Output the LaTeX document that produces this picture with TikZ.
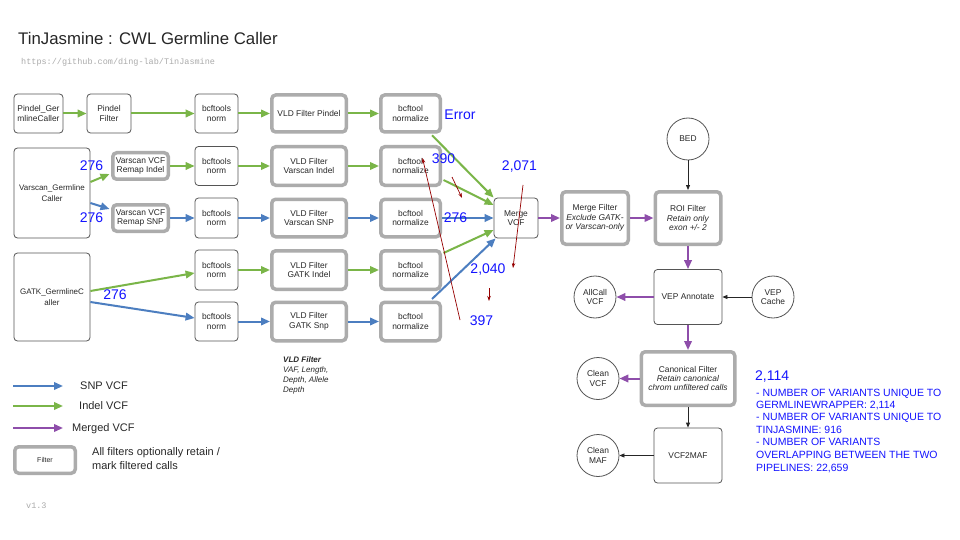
\documentclass[tikz,border=0pt]{standalone}
\usepackage{fontspec}
\setmainfont{Liberation Sans}
\setmonofont{Liberation Mono}
\usetikzlibrary{arrows.meta,calc}
\definecolor{snp}{RGB}{76,126,192}
\definecolor{indel}{RGB}{122,181,72}
\definecolor{merged}{RGB}{142,78,170}
\definecolor{anno}{RGB}{20,20,255}
\definecolor{redann}{RGB}{150,0,0}
\definecolor{boxline}{RGB}{85,85,85}
\definecolor{thickline}{RGB}{172,172,172}
\definecolor{txt}{RGB}{40,40,40}
\definecolor{faint}{RGB}{170,170,170}
\begin{document}
\begin{tikzpicture}[x=1pt,y=-1pt,
  base/.style={font=\fontsize{8.4}{9.4}\selectfont, text=txt, align=center, inner sep=0pt},
  proc/.style={base, draw=boxline, line width=0.8pt, rounded corners=3.5pt, fill=white},
  filt/.style={base, draw=thickline, line width=3.5pt, rounded corners=4pt, fill=white},
  src/.style={base, draw=boxline, line width=0.8pt, circle, minimum size=42pt, fill=white},
  sz/.style 2 args={minimum width=#1pt, minimum height=#2pt},
  indarr/.style={draw=indel, line width=2pt, -{Triangle[length=9pt,width=7.5pt]}},
  snparr/.style={draw=snp, line width=2pt, -{Triangle[length=9pt,width=7.5pt]}},
  mrgarr/.style={draw=merged, line width=2pt, -{Triangle[length=9pt,width=7.5pt]}},
  blkarr/.style={draw=black!85, line width=0.8pt, -{Triangle[length=5pt,width=4pt]}},
  redarr/.style={draw=redann, line width=0.7pt, -{Stealth[length=5pt,width=3.5pt]}},
  num/.style={text=anno, font=\fontsize{14}{14}\selectfont, inner sep=0pt},
  note/.style={text=anno, font=\fontsize{10.5}{12}\selectfont, inner sep=0pt, anchor=base west},
  legtxt/.style={text=txt, font=\fontsize{11}{13.5}\selectfont, inner sep=0pt, anchor=west, align=left}
]
\useasboundingbox (0,0) rectangle (960,540);
\fill[white] (0,0) rectangle (960,540);

% title
\node[inner sep=0pt, anchor=base west, text=black!85, font=\fontsize{16.8}{18}\selectfont] (title) at (18,45) {TinJasmine : CWL Germline Caller};
\node[inner sep=0pt, anchor=west, text=faint, font=\ttfamily\fontsize{8.5}{9}\selectfont] (url) at (21,62) {https://github.com/ding-lab/TinJasmine};

% row 1
\node[proc, sz={49}{39}] (pgc) at (38.5,113.5) {Pindel\_Ger\\mlineCaller};
\node[proc, sz={44}{39}] (pf) at (109,113.5) {Pindel\\Filter};
\node[proc, sz={43}{39}] (n1) at (216.5,113.5) {bcftools\\norm};
\node[filt, sz={74.5}{37}] (v1) at (309,113.5) {VLD Filter Pindel};
\node[filt, sz={59.5}{37}] (z1) at (410.5,113.5) {bcftool\\normalize};

% varscan
\node[proc, sz={76}{90}, font=\fontsize{8}{10.3}\selectfont] (vgc) at (52,193) {Varscan\_Germline\\Caller};
\node[filt, sz={55.5}{26.5}] (ri) at (140.5,166) {Varscan VCF\\Remap Indel};
\node[filt, sz={55.5}{26.5}] (rs) at (140.5,218) {Varscan VCF\\Remap SNP};
\node[proc, sz={43}{39}] (n2) at (216.5,166) {bcftools\\norm};
\node[proc, sz={43}{40}] (n3) at (216.5,218) {bcftools\\norm};
\node[filt, sz={74.5}{38.5}] (v2) at (309,166) {VLD Filter\\Varscan Indel};
\node[filt, sz={59.5}{38.5}] (z2) at (410.5,166) {bcftool\\normalize};
\node[filt, sz={74.5}{37.5}] (v3) at (309,218) {VLD Filter\\Varscan SNP};
\node[filt, sz={59.5}{37.5}] (z3) at (410.5,218) {bcftool\\normalize};

% gatk
\node[proc, sz={76}{88}, font=\fontsize{8}{10.3}\selectfont] (gatk) at (52,297) {GATK\_GermlineC\\aller};
\node[proc, sz={43}{40}] (n4) at (216.5,270) {bcftools\\norm};
\node[filt, sz={74.5}{38.5}] (v4) at (309,270) {VLD Filter\\GATK Indel};
\node[filt, sz={59.5}{38.5}] (z4) at (410.5,270) {bcftool\\normalize};
\node[proc, sz={43}{39}] (n5) at (216.5,321.5) {bcftools\\norm};
\node[filt, sz={74.5}{38.5}] (v5) at (309,321.5) {VLD Filter\\GATK Snp};
\node[filt, sz={59.5}{38.5}] (z5) at (410.5,321.5) {bcftool\\normalize};

% merge and downstream
\node[proc, sz={44}{40}] (merge) at (516,218) {Merge\\VCF};
\node[filt, sz={66.5}{52.5}] (mf) at (595,218) {Merge Filter\\\textit{Exclude GATK-}\\\textit{or Varscan-only}};
\node[filt, sz={65.5}{52.5}] (roi) at (688,218) {ROI Filter\\\textit{Retain only}\\\textit{exon +/- 2}};
\node[src] (bed) at (688,139) {BED};
\node[proc, sz={68}{55}] (vep) at (688,297) {VEP Annotate};
\node[src] (allcall) at (595,297) {AllCall\\VCF};
\node[src] (vepcache) at (773,297) {VEP\\Cache};
\node[filt, sz={93.5}{53.5}] (canon) at (688,378.5) {Canonical Filter\\\textit{Retain canonical}\\\textit{chrom unfiltered calls}};
\node[src] (cleanvcf) at (598,378.5) {Clean\\VCF};
\node[proc, sz={68}{55}] (vcf2maf) at (688,455.5) {VCF2MAF};
\node[src] (cleanmaf) at (598,455.5) {Clean\\MAF};

% arrows row 1
\draw[indarr] (pgc) -- (pf);
\draw[indarr] (pf) -- (n1);
\draw[indarr] (n1) -- (v1);
\draw[indarr] (v1) -- (z1);
\draw[indarr] ($(z1.south)+(21.5,1.5)$) -- (merge.north west);
% varscan arrows
\draw[indarr] ($(vgc.east)+(0,-11)$) -- ($(ri.west)+(-1.5,8)$);
\draw[snparr] ($(vgc.east)+(0,10)$) -- ($(rs.west)+(-1.5,-9)$);
\draw[indarr] (ri) -- (n2);
\draw[indarr] (n2) -- (v2);
\draw[indarr] (v2) -- (z2);
\draw[indarr] ($(z2.east)+(1.5,14)$) -- ($(merge.west)+(0,-13)$);
\draw[snparr] (rs) -- (n3);
\draw[snparr] (n3) -- (v3);
\draw[snparr] (v3) -- (z3);
\draw[snparr] (z3) -- (merge);
% gatk arrows
\draw[indarr] ($(gatk.east)+(0,-6)$) -- ($(n4.west)+(0,3)$);
\draw[snparr] ($(gatk.east)+(0,5)$) -- ($(n5.west)+(0,-3.5)$);
\draw[indarr] (n4) -- (v4);
\draw[indarr] (v4) -- (z4);
\draw[indarr] ($(z4.east)+(1.5,-17)$) -- ($(merge.west)+(0,12)$);
\draw[snparr] (n5) -- (v5);
\draw[snparr] (v5) -- (z5);
\draw[snparr] ($(z5.north)+(21.5,-1.5)$) -- ($(merge.south west)+(2,0)$);
% downstream arrows
\draw[mrgarr] (merge) -- (mf);
\draw[mrgarr] (mf) -- (roi);
\draw[blkarr] (bed) -- (roi);
\draw[mrgarr] (roi) -- (vep);
\draw[mrgarr] (vep) -- (allcall);
\draw[blkarr] (vepcache) -- (vep);
\draw[mrgarr] (vep) -- (canon);
\draw[mrgarr] (canon) -- (cleanvcf);
\draw[blkarr] (canon) -- (vcf2maf);
\draw[blkarr] (vcf2maf) -- (cleanmaf);

% VLD note
\node[inner sep=0pt, anchor=west, align=left, text=txt, font=\fontsize{8}{10}\selectfont] (vldnote) at (283,375) {\textbf{\textit{VLD Filter}}\\\textit{VAF, Length,}\\\textit{Depth, Allele}\\\textit{Depth}};

% legend
\coordinate (l1a) at (13,386); \coordinate (l1b) at (63,386);
\coordinate (l2a) at (13,406); \coordinate (l2b) at (63,406);
\coordinate (l3a) at (13,428); \coordinate (l3b) at (63,428);
\draw[snparr] (l1a) -- (l1b);
\draw[indarr] (l2a) -- (l2b);
\draw[mrgarr] (l3a) -- (l3b);
\node[legtxt] (lsnp) at (80,385.5) {SNP VCF};
\node[legtxt] (lind) at (79,406) {Indel VCF};
\node[legtxt] (lmrg) at (72,428.5) {Merged VCF};
\node[filt, sz={60.5}{26.5}, font=\fontsize{7}{8}\selectfont] (lfilt) at (45,460) {Filter};
\node[legtxt] (lfilttxt) at (92,458.5) {All filters optionally retain /\\mark filtered calls};
\node[inner sep=0pt, anchor=west, text=faint, font=\ttfamily\fontsize{8.5}{9}\selectfont] (ver) at (26,506) {v1.3};

% annotations (blue numbers)
\node[num] (a1) at (91.5,166) {276};
\node[num] (a2) at (91.5,218) {276};
\node[num] (a3) at (115,295) {276};
\node[num] (aerr) at (460,114.5) {Error};
\node[num] (a390) at (443.5,159) {390};
\node[num] (a276) at (455.5,218) {276};
\node[num] (a2071) at (519.5,166.5) {2,071};
\node[num] (a2040) at (488,269.5) {2,040};
\node[num] (a397) at (481.5,321) {397};

% red annotation arrows
\coordinate (r1a) at (460,320); \coordinate (r1b) at (422.5,158);
\coordinate (r2a) at (452,177); \coordinate (r2b) at (462,198);
\coordinate (r3a) at (523,185); \coordinate (r3b) at (513,268);
\coordinate (r4a) at (489,288); \coordinate (r4b) at (489,301);
\draw[redarr] (r1a) -- (r1b);
\draw[redarr] (r2a) -- (r2b);
\draw[redarr] (r3a) -- (r3b);
\draw[redarr] (r4a) -- (r4b);

% right note
\node[num, anchor=base west] (t0) at (755,380.7) {2,114};
\node[note] (t1) at (756,396) {- NUMBER OF VARIANTS UNIQUE TO};
\node[note] (t2) at (756,408.3) {GERMLINEWRAPPER: 2,114};
\node[note] (t3) at (756,420.6) {- NUMBER OF VARIANTS UNIQUE TO};
\node[note] (t4) at (756,433) {TINJASMINE: 916};
\node[note] (t5) at (756,445.5) {- NUMBER OF VARIANTS};
\node[note] (t6) at (756,458.2) {OVERLAPPING BETWEEN THE TWO};
\node[note] (t7) at (756,471) {PIPELINES: 22,659};
\end{tikzpicture}
\end{document}
